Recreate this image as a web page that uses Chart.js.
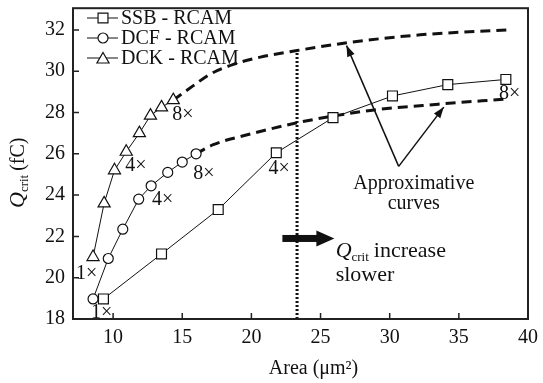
<!DOCTYPE html>
<html>
<head>
<meta charset="utf-8">
<script src="https://cdn.jsdelivr.net/npm/chart.js@4"></script>
<style>
  html, body { margin: 0; padding: 0; background: #fff; }
  #wrap { width: 543px; height: 383px; }
</style>
</head>
<body>
<div id="wrap"><canvas id="myChart" width="543" height="383"></canvas></div>
<script>
// series
const ssbX = [9.3, 13.5, 17.6, 21.8, 25.9, 30.2, 34.2, 38.4];
const ssbY = [18.97, 21.15, 23.3, 26.05, 27.75, 28.8, 29.35, 29.6];

const dcfX = [8.55, 9.65, 10.7, 11.85, 12.75, 13.95, 15.0, 16.0];
const dcfY = [18.97, 20.93, 22.35, 23.8, 24.45, 25.1, 25.6, 26.0];

const dckX = [8.55, 9.35, 10.1, 10.95, 11.9, 12.7, 13.5, 14.35];
const dckY = [21.0, 23.6, 25.2, 26.1, 27.0, 27.85, 28.25, 28.6];

// approximative curves (dashed)
const upperX = [14.35, 15.8, 17.0, 18.7, 20.65, 23.3, 26.95, 32.2, 38.55];
const upperY = [28.6, 29.3, 29.85, 30.33, 30.68, 31.0, 31.38, 31.76, 32.0];
const lowerX = [16.0, 17.24, 19.7, 23.3, 25.5, 28.6, 33.5, 38.4];
const lowerY = [26.0, 26.44, 26.92, 27.5, 27.78, 28.1, 28.4, 28.65];

// vertical dotted marker
const markX = [23.3, 23.3];
const markY = [18, 31.0];

const xTicks = [10, 15, 20, 25, 30, 35, 40];
const yTicks = [18, 20, 22, 24, 26, 28, 30, 32];

const seriesLabels = ['SSB - RCAM', 'DCF - RCAM', 'DCK - RCAM'];

// annotation labels, in data units
const factorLabels = [
  { text: '1×', x: 7.32, y: 20.2 },
  { text: '1×', x: 8.4, y: 18.29 },
  { text: '4×', x: 10.87, y: 25.43 },
  { text: '4×', x: 12.82, y: 23.76 },
  { text: '4×', x: 21.23, y: 25.29 },
  { text: '8×', x: 14.27, y: 27.88 },
  { text: '8×', x: 15.8, y: 25.05 },
  { text: '8×', x: 37.9, y: 28.89 }
];

const SERIF = '"Liberation Serif", "DejaVu Serif", serif';

function pts(xs, ys) {
  return xs.map((x, i) => ({ x: x, y: ys[i] }));
}

const base = {
  showLine: true,
  borderColor: '#111',
  borderWidth: 1,
  pointBackgroundColor: '#fff',
  pointBorderColor: '#111',
  pointBorderWidth: 1.2,
  tension: 0
};

const decorPlugin = {
  id: 'decor',
  afterDraw(chart) {
    const ctx = chart.ctx;
    const xs = chart.scales.x, ys = chart.scales.y;
    const a = chart.chartArea;
    const px = v => xs.getPixelForValue(v);
    const py = v => ys.getPixelForValue(v);

    ctx.save();
    // frame
    ctx.strokeStyle = '#222';
    ctx.lineWidth = 2;
    ctx.strokeRect(a.left, a.top, a.right - a.left, a.bottom - a.top);

    // inward ticks
    ctx.lineWidth = 1.5;
    ctx.beginPath();
    xTicks.forEach(t => {
      ctx.moveTo(px(t), a.bottom);
      ctx.lineTo(px(t), a.bottom - 6);
    });
    yTicks.forEach(t => {
      ctx.moveTo(a.left, py(t));
      ctx.lineTo(a.left + 6, py(t));
    });
    ctx.stroke();

    // legend
    const styles = ['rect', 'circle', 'triangle'];
    const radii = [7, 5, 7];
    ctx.font = '20px ' + SERIF;
    ctx.textBaseline = 'middle';
    ctx.textAlign = 'left';
    seriesLabels.forEach((lab, i) => {
      const y = 18 + i * 20;
      ctx.strokeStyle = '#111';
      ctx.lineWidth = 1;
      ctx.beginPath();
      ctx.moveTo(87, y);
      ctx.lineTo(118, y);
      ctx.stroke();
      ctx.fillStyle = '#fff';
      ctx.lineWidth = 1.2;
      Chart.helpers.drawPoint(ctx, { pointStyle: styles[i], radius: radii[i], borderWidth: 1.2 }, 103, y + (i === 2 ? 1.5 : 0));
      ctx.fillStyle = '#111';
      ctx.fillText(lab, 121, y + 1);
    });

    // factor labels
    ctx.fillStyle = '#111';
    ctx.font = '20px ' + SERIF;
    factorLabels.forEach(l => ctx.fillText(l.text, px(l.x), py(l.y)));

    // approximative curves text + arrows
    ctx.textAlign = 'center';
    ctx.fillText('Approximative', px(31.74), py(24.57));
    ctx.fillText('curves', px(31.74), py(23.56));
    const tail = { x: px(30.65), y: py(25.39) };
    [[26.88, 31.24], [33.91, 28.26]].forEach(h => {
      const hx = px(h[0]), hy = py(h[1]);
      ctx.strokeStyle = '#111';
      ctx.lineWidth = 1.5;
      ctx.beginPath();
      ctx.moveTo(tail.x, tail.y);
      ctx.lineTo(hx, hy);
      ctx.stroke();
      const ang = Math.atan2(hy - tail.y, hx - tail.x);
      ctx.beginPath();
      ctx.moveTo(hx, hy);
      ctx.lineTo(hx - 11 * Math.cos(ang) + 4 * Math.sin(ang), hy - 11 * Math.sin(ang) - 4 * Math.cos(ang));
      ctx.lineTo(hx - 11 * Math.cos(ang) - 4 * Math.sin(ang), hy - 11 * Math.sin(ang) + 4 * Math.cos(ang));
      ctx.closePath();
      ctx.fill();
    });

    // thick arrow
    const ax0 = px(22.24), ax1 = px(26.0), ay = py(21.9);
    ctx.fillRect(ax0, ay - 3.5, ax1 - ax0 - 14, 7);
    ctx.beginPath();
    ctx.moveTo(ax1, ay);
    ctx.lineTo(ax1 - 18, ay - 8);
    ctx.lineTo(ax1 - 18, ay + 8);
    ctx.closePath();
    ctx.fill();

    // Q_crit increase slower
    ctx.textAlign = 'left';
    ctx.textBaseline = 'alphabetic';
    let tx = px(26.09);
    const tyb = py(21.4) + 8;
    ctx.font = 'italic 22px ' + SERIF;
    ctx.fillText('Q', tx, tyb);
    tx += ctx.measureText('Q').width;
    ctx.font = '13px ' + SERIF;
    ctx.fillText('crit', tx, tyb + 4);
    tx += ctx.measureText('crit').width + 5;
    ctx.font = '22px ' + SERIF;
    ctx.fillText('increase', tx, tyb);
    ctx.fillText('slower', px(26.09), py(20.2) + 7);

    // x title
    ctx.font = '20px ' + SERIF;
    ctx.textAlign = 'center';
    ctx.textBaseline = 'middle';
    ctx.fillText('Area (\u03bcm\u00b2)', (a.left + a.right) / 2 + 13, 369);

    // y title
    ctx.translate(24, 208);
    ctx.rotate(-Math.PI / 2);
    ctx.textAlign = 'left';
    ctx.textBaseline = 'alphabetic';
    let qx = 0;
    ctx.font = 'italic 22px ' + SERIF;
    ctx.fillText('Q', qx, 0);
    qx += ctx.measureText('Q').width;
    ctx.font = '13px ' + SERIF;
    ctx.fillText('crit', qx, 4);
    qx += ctx.measureText('crit').width + 4;
    ctx.font = '20px ' + SERIF;
    ctx.fillText('(fC)', qx, 0);
    ctx.restore();
  }
};

const ctx = document.getElementById('myChart').getContext('2d');
const myChart = new Chart(ctx, {
  type: 'scatter',
  data: {
    datasets: [
      Object.assign({}, base, { label: seriesLabels[0], data: pts(ssbX, ssbY), pointStyle: 'rect', pointRadius: 7 }),
      Object.assign({}, base, { label: seriesLabels[1], data: pts(dcfX, dcfY), pointStyle: 'circle', pointRadius: 5 }),
      Object.assign({}, base, { label: seriesLabels[2], data: pts(dckX, dckY), pointStyle: 'triangle', pointRadius: 7 }),
      { label: 'upper', data: pts(upperX, upperY), showLine: true, borderColor: '#111', borderWidth: 3,
        borderDash: [10, 6], pointRadius: 0, cubicInterpolationMode: 'monotone', order: 5 },
      { label: 'lower', data: pts(lowerX, lowerY), showLine: true, borderColor: '#111', borderWidth: 3,
        borderDash: [10, 6], pointRadius: 0, cubicInterpolationMode: 'monotone', order: 5 },
      { label: 'mark', data: pts(markX, markY), showLine: true, borderColor: '#111', borderWidth: 3,
        borderDash: [2, 2], pointRadius: 0, order: 6 }
    ]
  },
  options: {
    responsive: false,
    animation: false,
    layout: { padding: { left: 0, right: 15, top: 0, bottom: 0 } },
    plugins: { legend: { display: false }, tooltip: { enabled: false } },
    scales: {
      x: {
        type: 'linear', min: 7.1, max: 40,
        afterBuildTicks: s => { s.ticks = xTicks.map(v => ({ value: v })); },
        afterFit: s => { s.height = 64; s.paddingLeft = 0; s.paddingRight = 0; },
        grid: { display: false, drawTicks: false },
        border: { display: false },
        ticks: { color: '#111', padding: 7, font: { family: SERIF, size: 20 } }
      },
      y: {
        type: 'linear', min: 18, max: 33.05,
        afterBuildTicks: s => { s.ticks = yTicks.map(v => ({ value: v })); },
        afterFit: s => { s.width = 73; s.paddingTop = 0; s.paddingBottom = 0; },
        grid: { display: false, drawTicks: false },
        border: { display: false },
        ticks: { color: '#111', padding: 8, font: { family: SERIF, size: 20 } }
      }
    }
  },
  plugins: [decorPlugin]
});
</script>
</body>
</html>
